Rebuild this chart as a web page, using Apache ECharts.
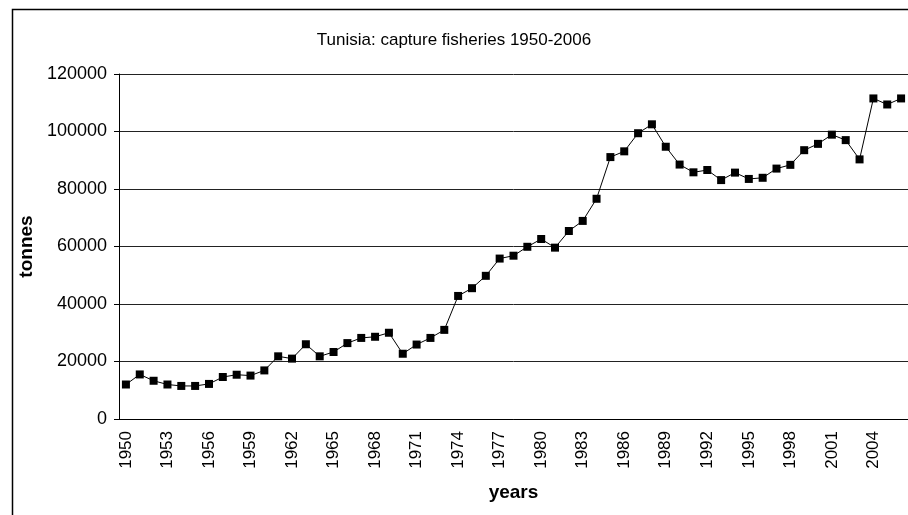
<!DOCTYPE html>
<html>
<head>
<meta charset="utf-8">
<title>Tunisia: capture fisheries 1950-2006</title>
<script src="https://cdn.jsdelivr.net/npm/echarts@6/dist/echarts.min.js"></script>
<style>
    html, body { margin: 0; padding: 0; background: #fff; }
    #chart { width: 908px; height: 515px; }
</style>
</head>
<body>
<div id="chart"></div>
<script>
// Chart data
// ------------------------------

var years = [];
for (var y = 1950; y <= 2006; y++) {
    years.push(String(y));
}

// Capture in tonnes, 1950-2006
var capture = [
    12000, 15500, 13300, 12000, 11500, 11500, 12200, 14600, 15400, 15100,
    16900, 21800, 21000, 26000, 21800, 23300, 26400, 28200, 28600, 30000,
    22700, 25900, 28200, 31000, 42800, 45500, 49800, 55800, 56800, 59900,
    62600, 59600, 65400, 68900, 76600, 91100, 93100, 99400, 102500, 94700,
    88500, 85800, 86600, 83100, 85700, 83500, 83900, 87100, 88400, 93500,
    95700, 98900, 97000, 90300, 111500, 109400, 111500
];

var yTicks = [0, 20000, 40000, 60000, 80000, 100000, 120000];


// Setup chart
// ------------------------------

var chart_element = document.getElementById('chart');
var chart = echarts.init(chart_element);

chart.setOption({

    animation: false,

    textStyle: {
        fontFamily: '"Liberation Sans", Arial, sans-serif'
    },

    // Outer frame
    graphic: [{
        type: 'rect',
        shape: { x: 12.5, y: 9.5, width: 1000, height: 1000 },
        style: { fill: 'none', stroke: '#000', lineWidth: 1.5 },
        silent: true
    }],

    title: {
        text: 'Tunisia: capture fisheries 1950-2006',
        left: 'center',
        top: 27,
        textStyle: {
            fontSize: 17,
            fontWeight: 'normal',
            color: '#000'
        }
    },

    grid: {
        left: 119,
        top: 74,
        right: -5,
        bottom: 96,
        containLabel: false
    },

    xAxis: {
        type: 'category',
        data: years,
        boundaryGap: true,
        name: 'years',
        nameLocation: 'middle',
        nameGap: 64,
        nameTextStyle: {
            fontSize: 19,
            fontWeight: 'bold',
            color: '#000'
        },
        axisLine: {
            lineStyle: { color: '#000', width: 1 }
        },
        axisTick: {
            interval: 0,
            length: 5,
            lineStyle: { color: '#000' }
        },
        axisLabel: {
            interval: 2,
            rotate: 90,
            margin: 12,
            fontSize: 17,
            color: '#000'
        },
        splitLine: { show: false }
    },

    yAxis: {
        type: 'value',
        min: yTicks[0],
        max: yTicks[yTicks.length - 1],
        interval: 20000,
        name: 'tonnes',
        nameLocation: 'middle',
        nameGap: 82,
        nameTextStyle: {
            fontSize: 19,
            fontWeight: 'bold',
            color: '#000'
        },
        axisLine: {
            show: true,
            lineStyle: { color: '#000', width: 1 }
        },
        axisTick: {
            show: true,
            length: 5,
            lineStyle: { color: '#000' }
        },
        axisLabel: {
            margin: 12,
            fontSize: 18,
            color: '#000',
            formatter: function(v) { return String(v); }
        },
        splitLine: {
            lineStyle: { color: '#222', width: 1 }
        }
    },

    series: [{
        name: 'capture',
        type: 'line',
        data: capture,
        symbol: 'rect',
        symbolSize: 8,
        lineStyle: { color: '#000', width: 1 },
        itemStyle: { color: '#000' }
    }]
});
</script>
</body>
</html>
